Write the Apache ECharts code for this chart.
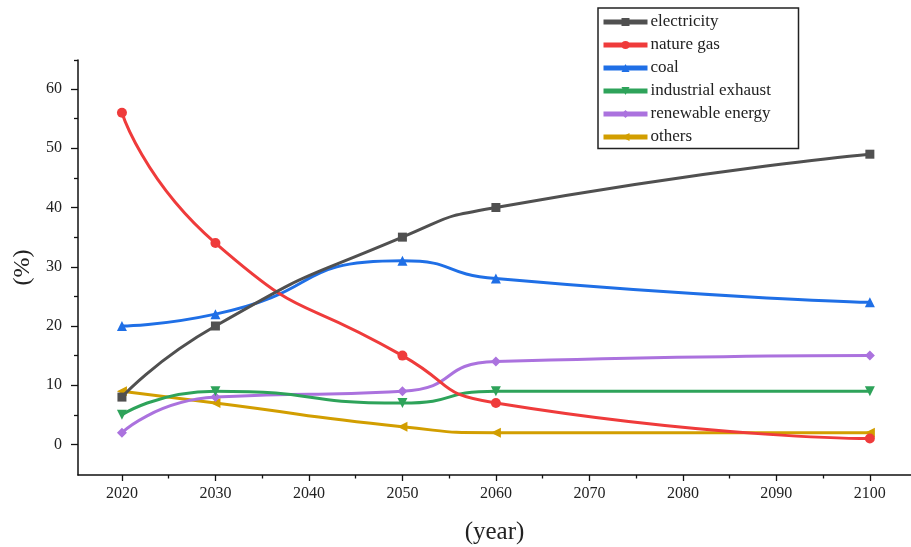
<!DOCTYPE html>
<html><head><meta charset="utf-8">
<script src="https://cdn.jsdelivr.net/npm/echarts@6/dist/echarts.min.js"></script>
<style>html,body{margin:0;padding:0;background:#fff}#c{width:911px;height:547px}</style>
</head><body><div id="c"></div>
<script>
const years = [2020, 2030, 2050, 2060, 2100];
const seriesNames = ['electricity', 'nature gas', 'coal', 'industrial exhaust', 'renewable energy', 'others'];
const electricity = [8, 20, 35, 40, 49];
const natureGas = [56, 34, 15, 7, 1];
const coal = [20, 22, 31, 28, 24];
const industrialExhaust = [5, 9, 7, 9, 9];
const renewableEnergy = [2, 8, 9, 14, 15];
const others = [9, 7, 3, 2, 2];
const xMajorTicks = [2020, 2030, 2040, 2050, 2060, 2070, 2080, 2090, 2100];
const xMinorTicks = [2025, 2035, 2045, 2055, 2065, 2075, 2085, 2095];
const yMajorTicks = [0, 10, 20, 30, 40, 50, 60];
const yMinorTicks = [5, 15, 25, 35, 45, 55];

const values = [electricity, natureGas, coal, industrialExhaust, renewableEnergy, others];
const colors = ['#505050', '#ef3b3b', '#1f6fe6', '#2ea35a', '#ab72de', '#d29e00'];
const symbols = ['rect', 'circle', 'triangle', 'triangle', 'diamond', 'triangle'];
const rotates = [0, 0, 0, 180, 0, 90];
const font = '"Liberation Serif", "DejaVu Serif", serif';

const chart = echarts.init(document.getElementById('c'));
const axisCommon = {
  type: 'value', splitLine: {show: false},
};
const plain = v => String(v);
chart.setOption({
  animation: false,
  backgroundColor: '#fff',
  grid: {left: 78, right: 0, top: 60, bottom: 72, containLabel: false, outerBoundsMode: 'none'},
  legend: {
    orient: 'vertical', left: 598, top: 8,
    padding: [5.5, 6, 3, 3],
    borderColor: '#222', borderWidth: 1.5,
    itemWidth: 44, itemHeight: 10, itemGap: 6,
    lineStyle: {width: 5},
    textStyle: {fontFamily: font, fontSize: 17, lineHeight: 17, width: 142, color: '#222', padding: [0, 0, 0, -2]},
    data: seriesNames
  },
  xAxis: [
    Object.assign({}, axisCommon, {
      min: 2015.3, max: 2104.4, position: 'bottom',
      axisLine: {show: true, onZero: false, lineStyle: {color: '#111', width: 1.5}},
      axisTick: {show: true, customValues: xMajorTicks, length: 6, inside: false, lineStyle: {color: '#111', width: 1.3}},
      axisLabel: {customValues: xMajorTicks, formatter: plain, fontFamily: font, fontSize: 16, color: '#222', margin: 11},
      name: '(year)', nameLocation: 'middle', nameGap: 45,
      nameTextStyle: {fontFamily: font, fontSize: 25, color: '#222'}
    }),
    Object.assign({}, axisCommon, {
      min: 2015.3, max: 2104.4, position: 'bottom',
      axisLine: {show: false, onZero: false},
      axisTick: {show: true, customValues: xMinorTicks, length: 3.5, lineStyle: {color: '#111', width: 1.3}},
      axisLabel: {show: false}
    })
  ],
  yAxis: [
    Object.assign({}, axisCommon, {
      min: -5.15, max: 64.9, position: 'left',
      axisLine: {show: true, onZero: false, lineStyle: {color: '#111', width: 1.5}},
      axisTick: {show: true, customValues: yMajorTicks, length: 7, lineStyle: {color: '#111', width: 1.3}},
      axisLabel: {customValues: yMajorTicks, formatter: plain, fontFamily: font, fontSize: 16, color: '#222', margin: 16},
      name: '(%)', nameLocation: 'middle', nameGap: 41, nameRotate: 90,
      nameTextStyle: {fontFamily: font, fontSize: 24, color: '#222'}
    }),
    Object.assign({}, axisCommon, {
      min: -5.15, max: 64.9, position: 'left', offset: 0,
      axisLine: {show: false, onZero: false},
      axisTick: {show: true, customValues: yMinorTicks.concat([64.9]), length: 4, lineStyle: {color: '#111', width: 1.3}},
      axisLabel: {show: false}
    })
  ],
  series: seriesNames.map((n, i) => ({
    name: n, type: 'line', xAxisIndex: 0, yAxisIndex: 0,
    data: years.map((y, j) => [y, values[i][j]]),
    smooth: 0.6,
    symbol: symbols[i], symbolRotate: rotates[i],
    symbolSize: i === 0 ? 9 : 10,
    lineStyle: {color: colors[i], width: 3},
    itemStyle: {color: colors[i]},
    z: 10 - i
  }))
});
</script></body></html>
